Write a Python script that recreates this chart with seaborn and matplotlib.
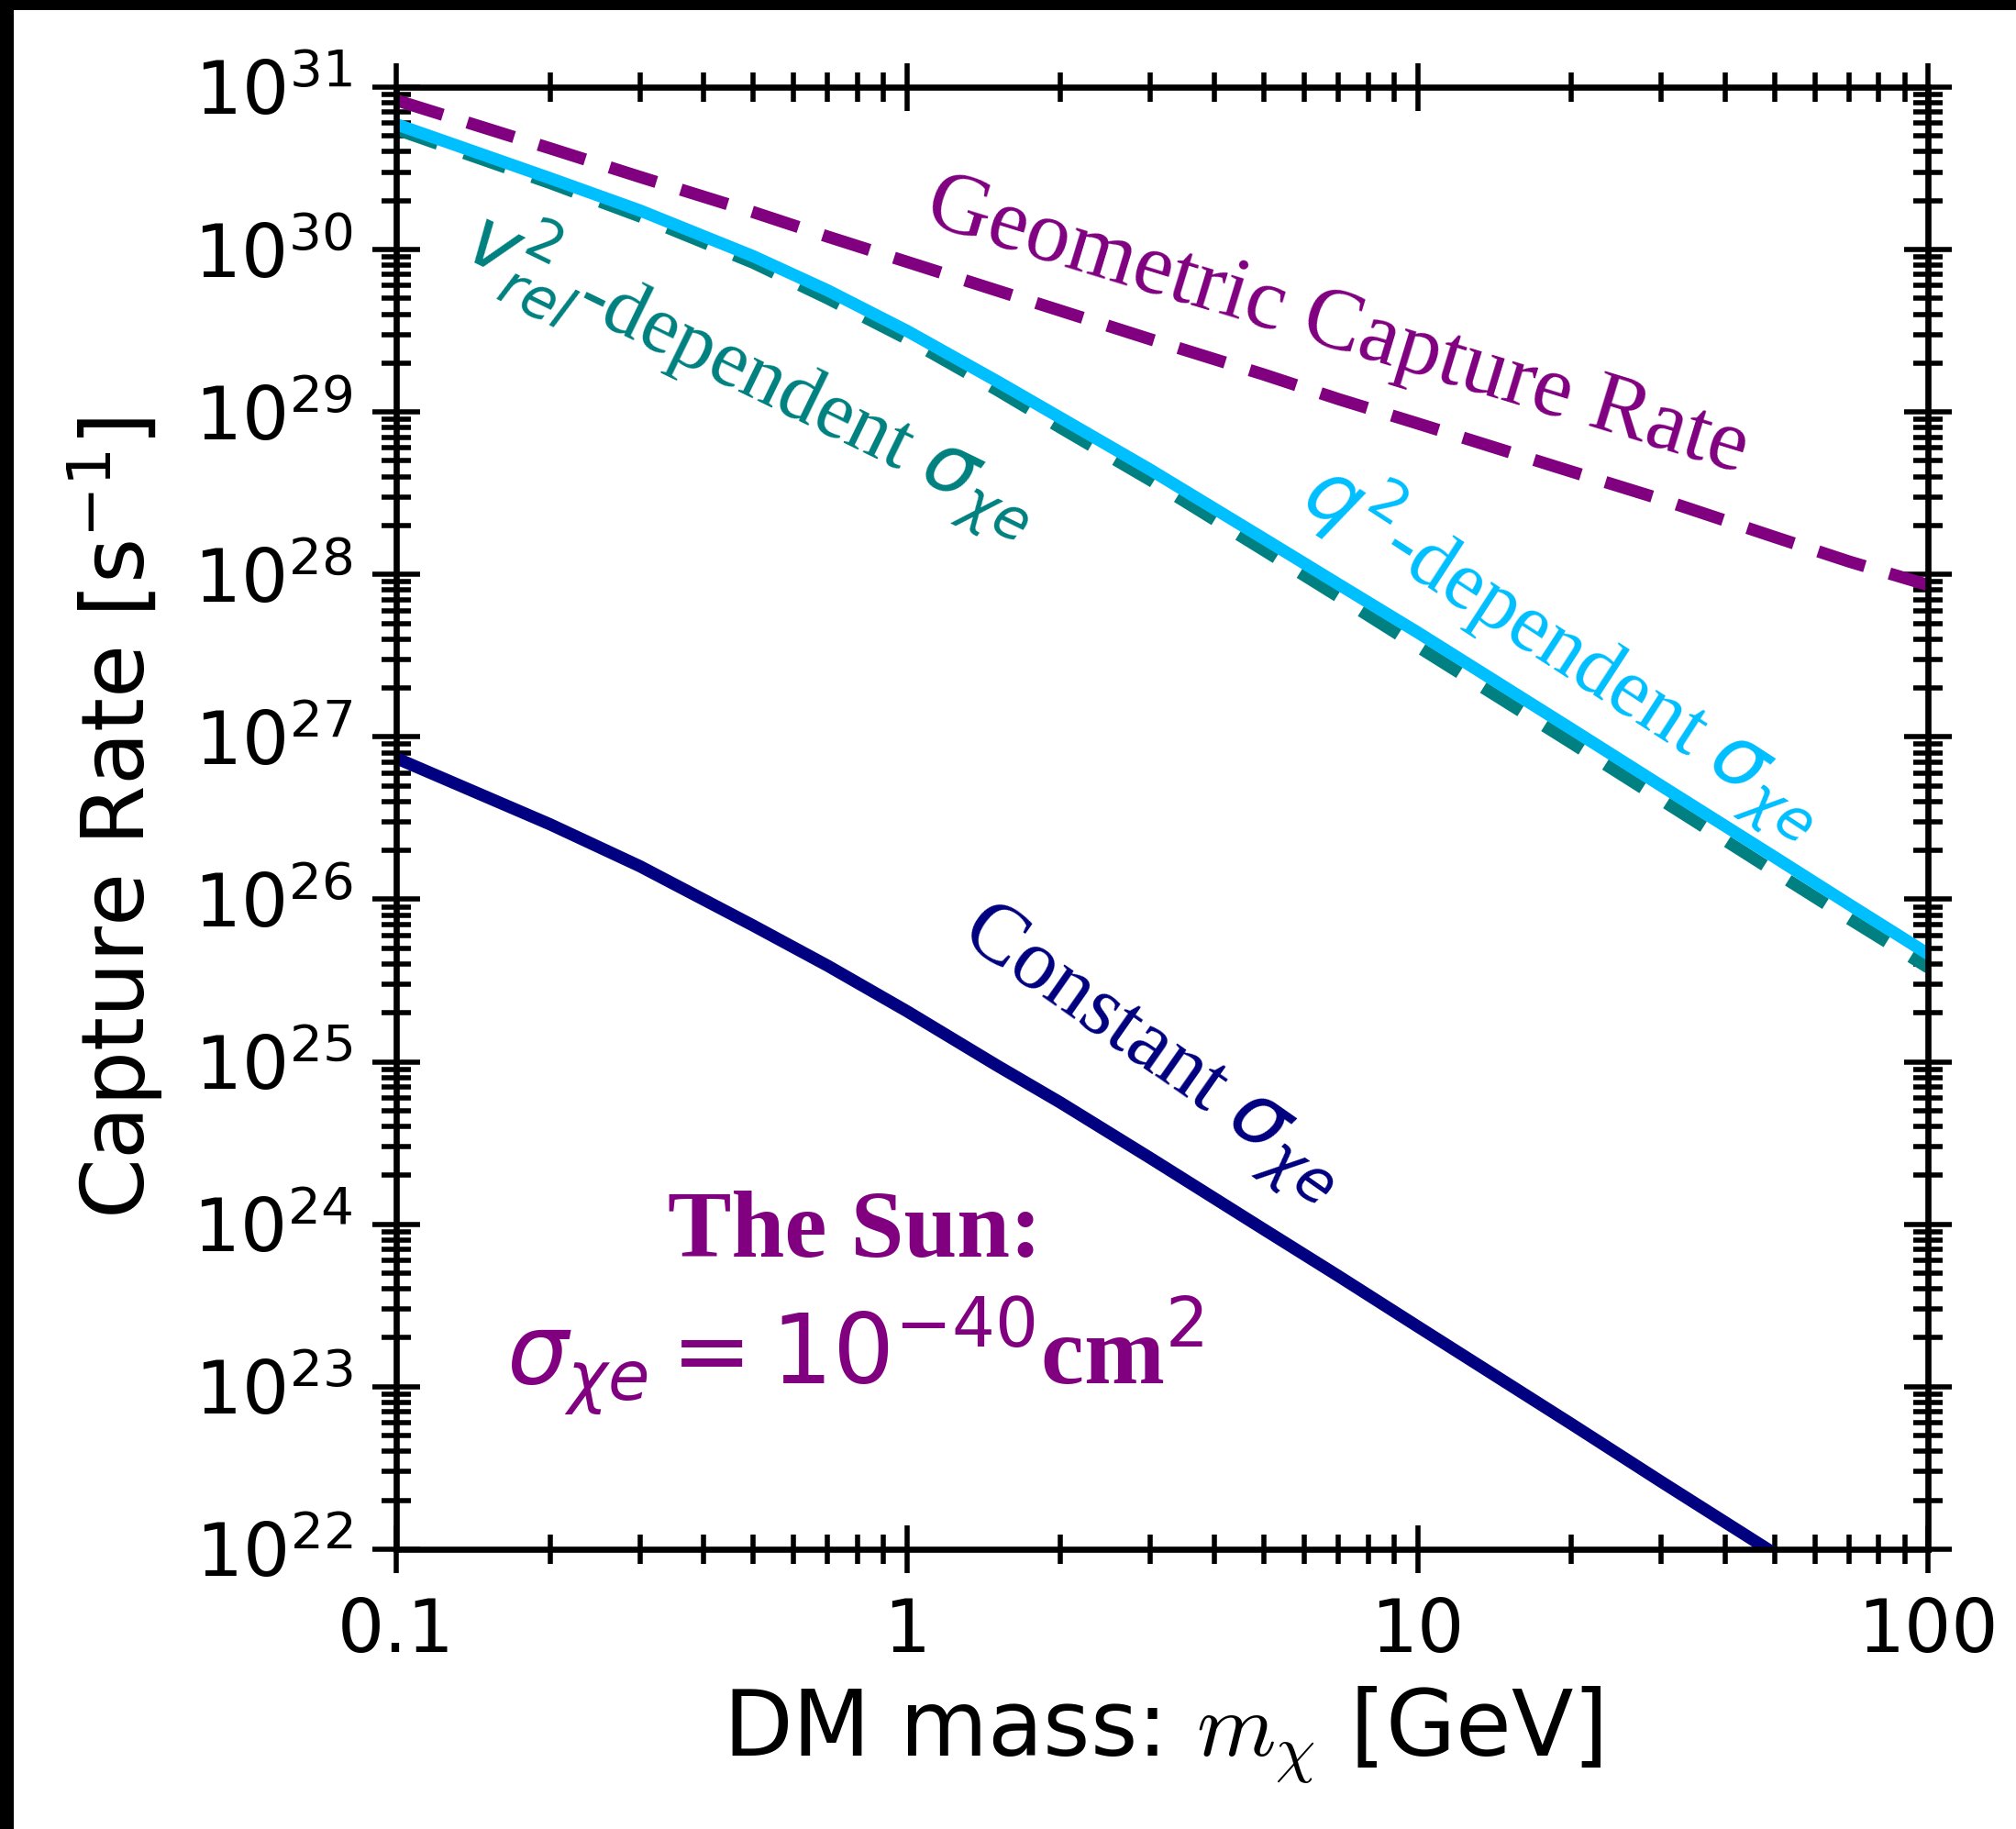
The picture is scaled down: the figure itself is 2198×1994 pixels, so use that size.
import matplotlib
matplotlib.use("Agg")
import matplotlib.pyplot as plt
import numpy as np
import pandas as pd
import seaborn as sns
from matplotlib.ticker import FixedLocator, FixedFormatter, LogLocator, NullFormatter
from matplotlib.patches import Rectangle

# DM mass grid [GeV]
mass = [0.1, 0.2, 0.3, 0.5, 0.7, 1, 1.5, 2, 3, 5, 7, 10, 20, 30, 50, 70, 100]

# capture rates [1/s]
geometric = [8.3e30, 4.2e30, 2.8e30, 1.7e30, 1.2e30, 8.4e29, 5.6e29, 4.2e29, 2.8e29,
             1.7e29, 1.2e29, 8.5e28, 4.3e28, 2.9e28, 1.7e28, 1.2e28, 8.6e27]
q2_dependent = [5.9e30, 2.75e30, 1.74e30, 9.1e29, 5.6e29, 3.16e29, 1.55e29, 9.2e28, 4.4e28,
                1.66e28, 8.7e27, 4.4e27, 1.12e27, 5.0e26, 1.82e26, 9.3e25, 4.6e25]
v2_dependent = [5.5e30, 2.57e30, 1.60e30, 8.3e29, 5.0e29, 2.82e29, 1.37e29, 8.0e28, 3.8e28,
                1.41e28, 7.3e27, 3.6e27, 9.2e26, 4.1e26, 1.48e26, 7.6e25, 3.8e25]
constant = [7.4e26, 2.9e26, 1.6e26, 6.9e25, 3.9e25, 2.05e25, 9.5e24, 5.6e24, 2.55e24,
            9.3e23, 4.8e23, 2.35e23, 5.9e22, 2.6e22, 9.4e21, 4.8e21, 2.35e21]

x_ticks = [0.1, 1, 10, 100]
x_tick_labels = ["0.1", "1", "10", "100"]
y_exponents = list(range(22, 32))

df = pd.DataFrame({"mass": mass, "geometric": geometric, "q2": q2_dependent,
                   "v2": v2_dependent, "constant": constant})

sns.set_style("ticks")
plt.rcParams["font.family"] = ["DejaVu Sans"]
plt.rcParams["mathtext.fontset"] = "dejavusans"
for key in ("text.color", "axes.labelcolor", "xtick.color", "ytick.color",
            "axes.edgecolor"):
    plt.rcParams[key] = "black"

fig = plt.figure(figsize=(10.99, 9.97), dpi=200)
ax = fig.add_axes([0.1965, 0.153, 0.760, 0.7994])

LW = 4.8
sns.lineplot(data=df, x="mass", y="geometric", ax=ax, color="#800080", lw=LW,
             linestyle=(0, (4.0, 2.1)))
sns.lineplot(data=df, x="mass", y="v2", ax=ax, color="#008080", lw=LW,
             linestyle=(0, (3.6, 2.3)))
sns.lineplot(data=df, x="mass", y="q2", ax=ax, color="#00BFFF", lw=LW)
sns.lineplot(data=df, x="mass", y="constant", ax=ax, color="#000080", lw=LW)

ax.set_xscale("log")
ax.set_yscale("log")
ax.set_xlim(0.1, 100)
ax.set_ylim(1e22, 1e31)

ax.xaxis.set_major_locator(FixedLocator(x_ticks))
ax.xaxis.set_major_formatter(FixedFormatter(x_tick_labels))
ax.xaxis.set_minor_locator(LogLocator(base=10, subs=np.arange(2, 10), numticks=20))
ax.xaxis.set_minor_formatter(NullFormatter())
ax.yaxis.set_major_locator(FixedLocator([10.0 ** e for e in y_exponents]))
ax.yaxis.set_major_formatter(FixedFormatter([rf"$10^{{{e}}}$" for e in y_exponents]))
ax.yaxis.set_minor_locator(LogLocator(base=10, subs=np.arange(2, 10), numticks=20))
ax.yaxis.set_minor_formatter(NullFormatter())

for s in ax.spines.values():
    s.set_linewidth(2.4)
    s.set_color("black")
    s.set_visible(True)
ax.tick_params(which="both", direction="inout", top=True, right=True,
               color="black", width=2.0)
ax.tick_params(which="major", length=18.5, labelsize=29, labelcolor="black")
ax.tick_params(which="minor", length=11.5)
ax.tick_params(axis="x", which="major", pad=9)
ax.tick_params(axis="y", which="major", pad=8)

ax.set_xlabel(r"DM mass: $m_\chi$ [GeV]", fontsize=35.5, labelpad=7,
              math_fontfamily="cm")
ax.set_ylabel(r"Capture Rate [s$^{-1}$]", fontsize=34, labelpad=11)

serif = ["Liberation Serif", "DejaVu Serif"]
ax.text(6.95, 3.3e29, "Geometric Capture Rate", color="#800080", fontsize=34.5,
        family=serif, rotation=-17, rotation_mode="anchor", ha="center", va="center")
ax.text(0.5, 1.75e29, r"$v_{rel}^2$-dependent $\sigma_{\chi e}$", color="#008080",
        fontsize=32, family=serif, rotation=-26, rotation_mode="anchor",
        ha="center", va="center")
ax.text(19.5, 3.5e27, r"$q^2$-dependent $\sigma_{\chi e}$", color="#00BFFF",
        fontsize=32.5, family=serif, rotation=-33, rotation_mode="anchor",
        ha="center", va="center")
ax.text(3.0, 1.1e25, r"Constant $\sigma_{\chi e}$", color="#000080",
        fontsize=33.5, family=serif, rotation=-35, rotation_mode="anchor",
        ha="center", va="center")
ax.text(0.79, 8.7e23, "The Sun:", color="#800080", fontsize=37.5, family=serif,
        fontweight="bold", ha="center", va="center")
ax.text(0.79, 1.55e23, r"$\sigma_{\chi e} = 10^{-40}$cm$^2$", color="#800080",
        fontsize=38, family=serif, fontweight="bold", ha="center", va="center")

# dark frame strips along the top and left edges
fig.add_artist(Rectangle((0, 1 - 11 / 1994), 1, 11 / 1994, transform=fig.transFigure,
                         color="black", lw=0, zorder=10))
fig.add_artist(Rectangle((0, 0), 15 / 2198, 1, transform=fig.transFigure,
                         color="black", lw=0, zorder=10))

fig.savefig("out.png", dpi=200, facecolor="white")
